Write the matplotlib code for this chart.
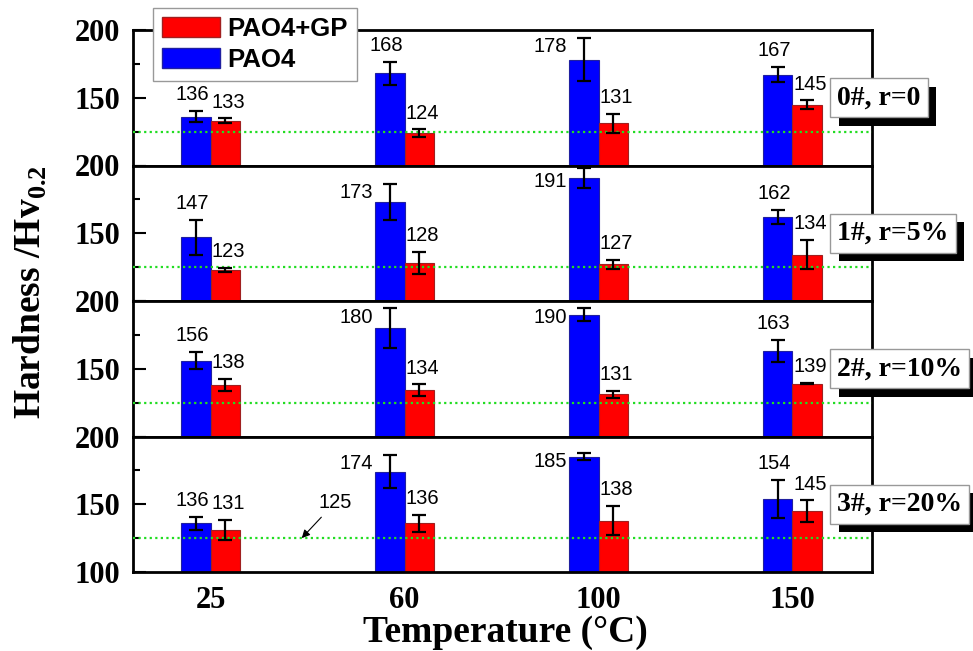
import matplotlib.pyplot as plt
import matplotlib.patheffects as pe
from matplotlib.patches import Patch
import numpy as np

plt.rcParams['font.family'] = ['Liberation Serif', 'DejaVu Serif']
plt.rcParams['font.weight'] = 'bold'
plt.rcParams['mathtext.fontset'] = 'custom'
plt.rcParams['mathtext.rm'] = 'Liberation Serif:bold'
plt.rcParams['mathtext.bf'] = 'Liberation Serif:bold'

temperatures = ['25', '60', '100', '150']
samples = ['0#, r=0', '1#, r=5%', '2#, r=10%', '3#, r=20%']

# Vickers hardness, one row per sample, one column per temperature
pao4 = [[136, 168, 178, 167],
        [147, 173, 191, 162],
        [156, 180, 190, 163],
        [136, 174, 185, 154]]
pao4_err = [[4, 8.5, 16, 5.5],
            [13, 13, 7.5, 5.3],
            [6.5, 15, 4.5, 8],
            [4.8, 12, 2.5, 14]]
pao4_gp = [[133, 124, 131, 145],
           [123, 128, 127, 134],
           [138, 134, 131, 139],
           [131, 136, 138, 145]]
pao4_gp_err = [[1.7, 2.6, 6.7, 3],
               [1.6, 8.3, 3.5, 10.7],
               [4.5, 4.4, 2.6, 0.5],
               [7.3, 6.2, 11, 7.8]]
reference_hv = 125

# tall PAO4 bars get their value written beside the bar instead of above
side_labels = {(0, 2), (1, 1), (1, 2), (2, 1), (2, 2), (3, 1), (3, 2)}

BLUE = '#0000ff'
RED = '#ff0000'
num_font = dict(family=['Liberation Sans Narrow', 'Liberation Sans'], weight='normal', size=14.5)

fig = plt.figure(figsize=(9.73, 6.51), dpi=100)
left, right = 133 / 973, 872 / 973
top, bottom = 1 - 30 / 651, 1 - 572 / 651
h = (top - bottom) / 4
x = np.arange(len(temperatures))
w = 0.15


def put_label(ax, xc, val, err, beside, dx=0):
    if beside:
        ax.annotate(f'{val}', xy=(xc - w / 2, min(val + err, 194)), xytext=(-2, 1),
                    textcoords='offset points', ha='right', va='top',
                    zorder=6, **num_font)
    else:
        ax.annotate(f'{val}', xy=(xc, val + err), xytext=(dx, 5),
                    textcoords='offset points', ha='center', va='bottom',
                    zorder=6, **num_font)


for i in range(4):
    ax = fig.add_axes([left, top - (i + 1) * h, right - left, h])
    ax.bar(x - w / 2, pao4[i], w, yerr=pao4_err[i], color=BLUE,
           edgecolor='#2020a0', linewidth=0.8, zorder=2,
           error_kw=dict(ecolor='black', elinewidth=1.6, capsize=5, capthick=1.6, zorder=4))
    ax.bar(x + w / 2, pao4_gp[i], w, yerr=pao4_gp_err[i], color=RED,
           edgecolor='#a02020', linewidth=0.8, zorder=2,
           error_kw=dict(ecolor='black', elinewidth=1.6, capsize=5, capthick=1.6, zorder=4))
    ax.axhline(reference_hv, color='#22dd22', ls=(0, (1, 1.5)), lw=1.6, zorder=3)

    for j in range(len(temperatures)):
        put_label(ax, x[j] - w / 2, pao4[i][j], pao4_err[i][j], (i, j) in side_labels, dx=-3)
        put_label(ax, x[j] + w / 2, pao4_gp[i][j], pao4_gp_err[i][j], False, dx=2.5)

    ax.set_xlim(-0.4, 3.41)
    ax.set_ylim(100, 200)
    ax.set_yticks([100, 150, 200])
    ax.set_yticks([125, 175], minor=True)
    if i < 3:
        ax.set_yticklabels(['', '150', '200'])
    ax.set_xticks(x)
    ax.set_xticklabels(temperatures if i == 3 else [])
    ax.tick_params(axis='y', which='major', direction='in', length=9, width=1.5,
                   labelsize=22, pad=9)
    ax.tick_params(axis='y', which='minor', direction='in', length=5, width=1.5)
    ax.tick_params(axis='x', length=0, labelsize=22, pad=10)
    for sp in ax.spines.values():
        sp.set_linewidth(2)

    # sample tag with a drop shadow
    tag = ax.text(0.953, 0.5, samples[i], transform=ax.transAxes, ha='left', va='center',
                  fontsize=20, color='black', zorder=8, clip_on=False,
                  bbox=dict(boxstyle='square,pad=0.25', lw=1, fc='white', ec='#999999'))
    tag.get_bbox_patch().set_path_effects([
        pe.SimplePatchShadow(offset=(6, -6), shadow_rgbFace='black', alpha=1),
        pe.Normal()])

    if i == 3:
        ax.annotate(f'{reference_hv}', xy=(0.47, reference_hv), xytext=(0.64, 151),
                    ha='center', va='center', zorder=6, **num_font,
                    arrowprops=dict(arrowstyle='-|>', color='black', lw=0.8,
                                    mutation_scale=12, shrinkA=2, shrinkB=0))

fig.text(505 / 973, 1 - 632 / 651, 'Temperature (°C)', ha='center', va='center', fontsize=27)
fig.text(30 / 973, 1 - 292 / 651, r'Hardness /Hv$_{\mathbf{0.2}}$', ha='center', va='center',
         rotation=90, fontsize=27)

handles = [Patch(facecolor=RED, edgecolor='#a02020'), Patch(facecolor=BLUE, edgecolor='#2020a0')]
leg = fig.legend(handles, ['PAO4+GP', 'PAO4'], loc='upper left',
                 bbox_to_anchor=(153 / 973, 1 - 8 / 651), borderaxespad=0,
                 prop=dict(family='Liberation Sans', weight='bold', size=18.5),
                 fancybox=False, edgecolor='#999999', framealpha=1,
                 handlelength=2.25, handleheight=0.85, borderpad=0.35,
                 labelspacing=0.25, handletextpad=0.3)
leg.get_frame().set_linewidth(1)

fig.savefig('out.png', dpi=100)
